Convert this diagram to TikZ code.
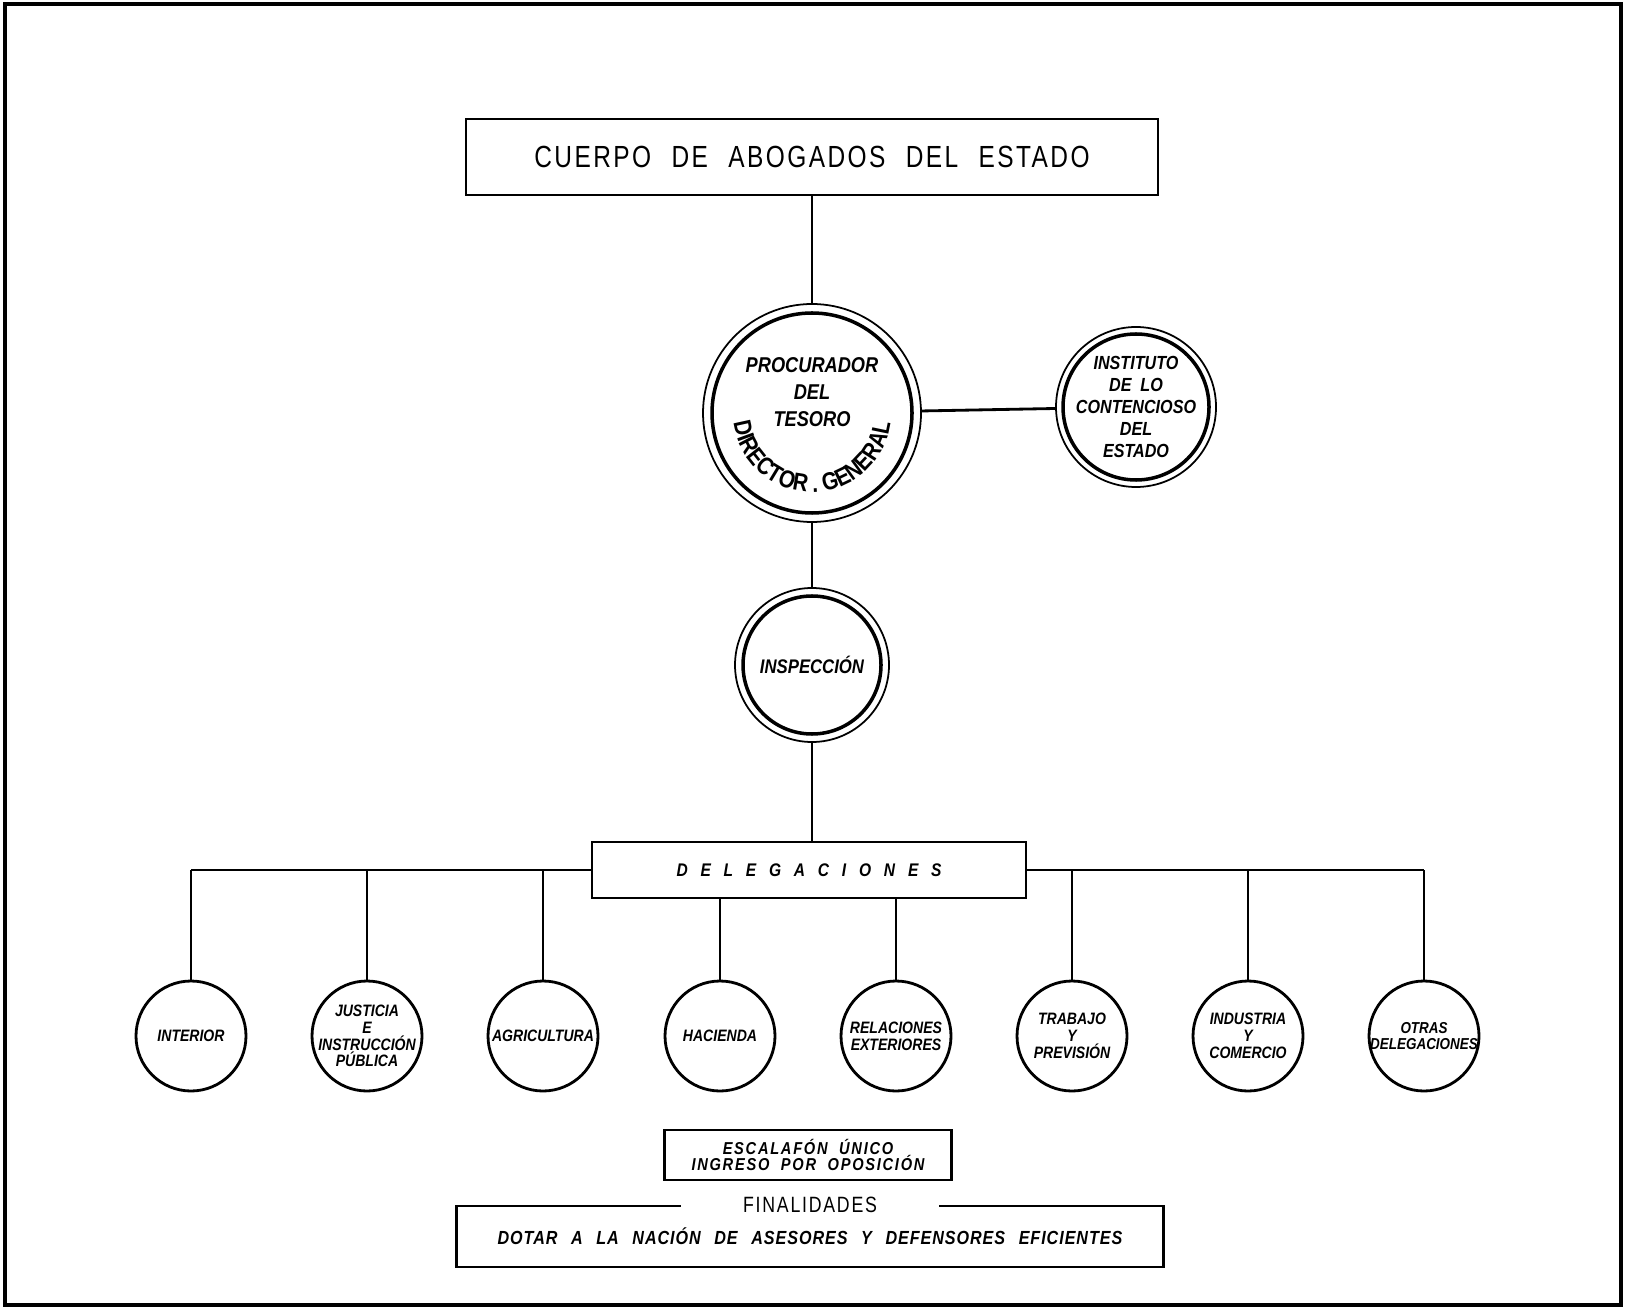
\documentclass[tikz,border=0pt]{standalone}
\usepackage{fontspec}
\newfontfamily\titlefont[FakeStretch=0.8, LetterSpace=8, WordSpace=2.2]{Liberation Sans}
\newfontfamily\hand[FakeStretch=0.85, WordSpace=2.2]{Liberation Sans}
\newfontfamily\handarc[FakeStretch=0.85]{Liberation Sans}
\newfontfamily\handls[FakeStretch=0.85, LetterSpace=5, WordSpace=2.5]{Liberation Sans}
\newfontfamily\handsp[FakeStretch=0.85, LetterSpace=10, WordSpace=2]{Liberation Sans}
\newfontfamily\handwide[FakeStretch=0.85, LetterSpace=70]{Liberation Sans}
\usetikzlibrary{calc,decorations.text}

\tikzset{
  box/.style={draw, line width=.8pt, inner sep=0pt},
  ring/.style 2 args={circle, draw, line width=.5pt, inner sep=0pt, minimum size=#1,
    path picture={\draw[line width=1pt] (path picture bounding box.center) circle[radius=#2];}},
  dept/.style={circle, draw, line width=.8pt, inner sep=0pt, minimum size=1.1cm},
  depttxt/.style={align=center, inner sep=0pt, font=\hand\bfseries\itshape\fontsize{4.7}{4.8}\selectfont},
  ringtxt/.style 2 args={align=center, inner sep=0pt, font=\hand\bfseries\itshape\fontsize{#1}{#2}\selectfont},
  link/.style={line width=.8pt}
}

\begin{document}
\begin{tikzpicture}
  \useasboundingbox (0,0) rectangle (16.26,13.10);
  \draw[line width=1.1pt] (0.05,0.05) rectangle (16.21,13.06);

  \node[box, minimum width=6.92cm, minimum height=0.76cm, font=\titlefont\fontsize{8.7}{10}\selectfont] (title) at (8.12,11.53) {CUERPO DE ABOGADOS DEL ESTADO};

  \node[ring={2.18cm}{1.0cm}] (proc) at (8.12,8.97) {};
  \node[ringtxt={6.1}{7.7}] (proc-t) at (8.12,9.18) {PROCURADOR\\DEL\\TESORO};
  \path[decorate, decoration={text along path, text align=center,
      text={|\handarc\bfseries\fontsize{7}{8}\selectfont|DIRECTOR . GENERAL}}]
    ([shift={(188:0.79)}]proc.center) arc[start angle=188, end angle=352, radius=0.79];

  \node[ring={1.6cm}{0.73cm}] (inst) at (11.36,9.03) {};
  \node[ringtxt={5.4}{6.2}] (inst-t) at (inst) {INSTITUTO\\DE~~LO\\CONTENCIOSO\\DEL\\ESTADO};

  \node[ring={1.54cm}{0.69cm}] (insp) at (8.12,6.45) {};
  \node[ringtxt={5.6}{6.5}] (insp-t) at (insp) {INSPECCIÓN};

  \node[box, minimum width=4.34cm, minimum height=0.56cm, font=\handwide\bfseries\itshape\fontsize{5.2}{6}\selectfont] (deleg) at (8.09,4.40) {DELEGACIONES};

  % delegaciones
  \node[dept] (interior) at (1.91,2.74) {};
  \node[depttxt] (interior-t) at (interior) {INTERIOR};
  \node[dept] (justicia) at (3.67,2.74) {};
  \node[depttxt] (justicia-t) at (justicia) {JUSTICIA\\E\\INSTRUCCIÓN\\PÚBLICA};
  \node[dept] (agri) at (5.43,2.74) {};
  \node[depttxt] (agri-t) at (agri) {AGRICULTURA};
  \node[dept] (hacienda) at (7.20,2.74) {};
  \node[depttxt] (hacienda-t) at (hacienda) {HACIENDA};
  \node[dept] (relext) at (8.96,2.74) {};
  \node[depttxt] (relext-t) at (relext) {RELACIONES\\EXTERIORES};
  \node[dept] (trabajo) at (10.72,2.74) {};
  \node[depttxt] (trabajo-t) at (trabajo) {TRABAJO\\Y\\PREVISIÓN};
  \node[dept] (industria) at (12.48,2.74) {};
  \node[depttxt] (industria-t) at (industria) {INDUSTRIA\\Y\\COMERCIO};
  \node[dept] (otras) at (14.24,2.74) {};
  \node[depttxt, font=\hand\bfseries\itshape\fontsize{4.5}{4.8}\selectfont] (otras-t) at (otras) {OTRAS\\DELEGACIONES};

  \node[box, minimum width=2.87cm, minimum height=0.50cm, align=center, font=\handsp\bfseries\itshape\fontsize{4.9}{4.5}\selectfont] (escal) at (8.08,1.55) {ESCALAFÓN ÚNICO\\INGRESO POR OPOSICIÓN};
  \node[box, minimum width=7.07cm, minimum height=0.61cm, font=\handls\bfseries\itshape\fontsize{5.4}{6}\selectfont] (final) at (8.10,0.735) {DOTAR A LA NACIÓN DE ASESORES Y DEFENSORES EFICIENTES};
  \node[fill=white, inner xsep=0.62cm, inner ysep=1pt, font=\titlefont\fontsize{6.3}{7}\selectfont] (final-t) at (final.north) {FINALIDADES};

  \draw[link] (title) -- (proc);
  \draw[link] (proc) -- (inst);
  \draw[link] (proc) -- (insp);
  \draw[link] (insp.south) -- (insp.south |- deleg.north);
  \draw[link] (interior |- deleg) -- (deleg.west);
  \draw[link] (deleg.east) -- (otras |- deleg);
  \draw[link] (interior |- deleg) -- (interior);
  \draw[link] (justicia |- deleg) -- (justicia);
  \draw[link] (agri |- deleg) -- (agri);
  \draw[link] (deleg.south -| hacienda) -- (hacienda);
  \draw[link] (deleg.south -| relext) -- (relext);
  \draw[link] (trabajo |- deleg) -- (trabajo);
  \draw[link] (industria |- deleg) -- (industria);
  \draw[link] (otras |- deleg) -- (otras);
\end{tikzpicture}
\end{document}
